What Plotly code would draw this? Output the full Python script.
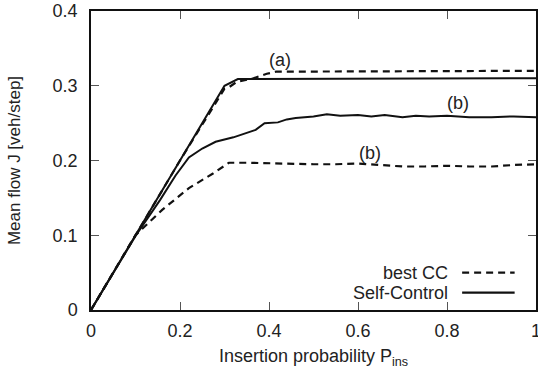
import plotly.graph_objects as go

# Self-Control, curve (a)
sc_a_x = [0, 0.1, 0.2, 0.3, 0.33, 0.4, 0.5, 0.6, 0.7, 0.8, 0.9, 1.0]
sc_a_y = [0, 0.1, 0.2, 0.3, 0.309, 0.309, 0.310, 0.309, 0.310, 0.309, 0.310, 0.310]
# best CC, curve (a)
cc_a_x = [0, 0.1, 0.2, 0.3, 0.31, 0.327, 0.365, 0.395, 0.417, 0.5, 0.6, 0.7, 0.8, 0.9, 1.0]
cc_a_y = [0, 0.1, 0.2, 0.296, 0.298, 0.305, 0.310, 0.316, 0.319, 0.319, 0.319, 0.319, 0.319, 0.320, 0.320]
# Self-Control, curve (b)
sc_b_x = [0, 0.1, 0.155, 0.19, 0.22, 0.25, 0.28, 0.32, 0.37, 0.39, 0.42, 0.44, 0.46, 0.5, 0.53,
          0.56, 0.6, 0.63, 0.66, 0.7, 0.73, 0.76, 0.8, 0.85, 0.9, 0.95, 1.0]
sc_b_y = [0, 0.099, 0.147, 0.18, 0.204, 0.216, 0.225, 0.231, 0.241, 0.250, 0.251, 0.255, 0.257, 0.259, 0.262,
          0.260, 0.261, 0.259, 0.261, 0.258, 0.260, 0.259, 0.260, 0.258, 0.258, 0.259, 0.258]
# best CC, curve (b)
cc_b_x = [0, 0.1, 0.16, 0.22, 0.275, 0.31, 0.35, 0.4, 0.45, 0.5, 0.55, 0.6, 0.65, 0.7, 0.75,
          0.8, 0.85, 0.9, 0.95, 1.0]
cc_b_y = [0, 0.1, 0.134, 0.163, 0.183, 0.197, 0.197, 0.196, 0.196, 0.195, 0.195, 0.196, 0.194, 0.192, 0.192,
          0.193, 0.192, 0.192, 0.194, 0.195]

x_ticks = [0, 0.2, 0.4, 0.6, 0.8, 1.0]
x_tick_text = ["0", "0.2", "0.4", "0.6", "0.8", "1"]
y_ticks = [0, 0.1, 0.2, 0.3, 0.4]
y_tick_text = ["0", "0.1", "0.2", "0.3", "0.4"]

labels = [("(a)", 0.425, 0.334), ("(b)", 0.825, 0.2775), ("(b)", 0.627, 0.2105)]

FONT = "Liberation Sans, Arial, sans-serif"
FS = 18
TXT = "#222"
DASH = "7px,5px"

fig = go.Figure()
fig.add_trace(go.Scatter(x=cc_a_x, y=cc_a_y, mode="lines", name="best CC",
                         line=dict(color="#111", width=2.2, dash=DASH), showlegend=False))
fig.add_trace(go.Scatter(x=cc_b_x, y=cc_b_y, mode="lines", name="best CC",
                         line=dict(color="#111", width=2.2, dash=DASH), showlegend=False))
fig.add_trace(go.Scatter(x=sc_a_x, y=sc_a_y, mode="lines", name="Self-Control",
                         line=dict(color="#111", width=2), showlegend=False))
fig.add_trace(go.Scatter(x=sc_b_x, y=sc_b_y, mode="lines", name="Self-Control",
                         line=dict(color="#111", width=2), showlegend=False))

for t, x, y in labels:
    fig.add_annotation(x=x, y=y, text=t, showarrow=False, xref="x", yref="y",
                       font=dict(family=FONT, size=FS, color=TXT))

# custom legend (text left of line sample)
leg = [("best CC", 0.1247, DASH), ("Self-Control", 0.0579, "solid")]
for name, yp, dash in leg:
    fig.add_annotation(x=0.807, y=yp, xref="paper", yref="paper", text=name, showarrow=False,
                       xanchor="right", yanchor="middle", font=dict(family=FONT, size=FS, color=TXT))
    fig.add_shape(type="line", xref="paper", yref="paper", x0=0.834, x1=0.952, y0=yp, y1=yp,
                  line=dict(color="#111", width=2.2, dash=dash))

axis_common = dict(showline=True, linecolor="#111", linewidth=1.5, mirror="ticks", ticks="inside",
                   ticklen=8, tickwidth=1, tickcolor="#555", showgrid=False, zeroline=False,
                   automargin=False, tickfont=dict(family=FONT, size=FS, color=TXT))

fig.update_xaxes(range=[0, 1], tickvals=x_ticks, ticktext=x_tick_text, ticklabelstandoff=4,
                 ticklabeloverflow="allow",
                 title=dict(text="Insertion probability P<sub>ins</sub>", standoff=9,
                            font=dict(family=FONT, size=FS, color=TXT)),
                 **axis_common)
fig.update_yaxes(range=[0, 0.4], tickvals=y_ticks, ticktext=y_tick_text, ticklabelstandoff=8,
                 title=dict(text="Mean flow J [veh/step]", standoff=28,
                            font=dict(family=FONT, size=17, color=TXT)),
                 **axis_common)

fig.update_layout(width=538, height=370, margin=dict(l=91, r=2, t=11, b=60, autoexpand=False),
                  plot_bgcolor="white", paper_bgcolor="white",
                  font=dict(family=FONT, size=FS, color=TXT))

fig.write_html("out.html")
